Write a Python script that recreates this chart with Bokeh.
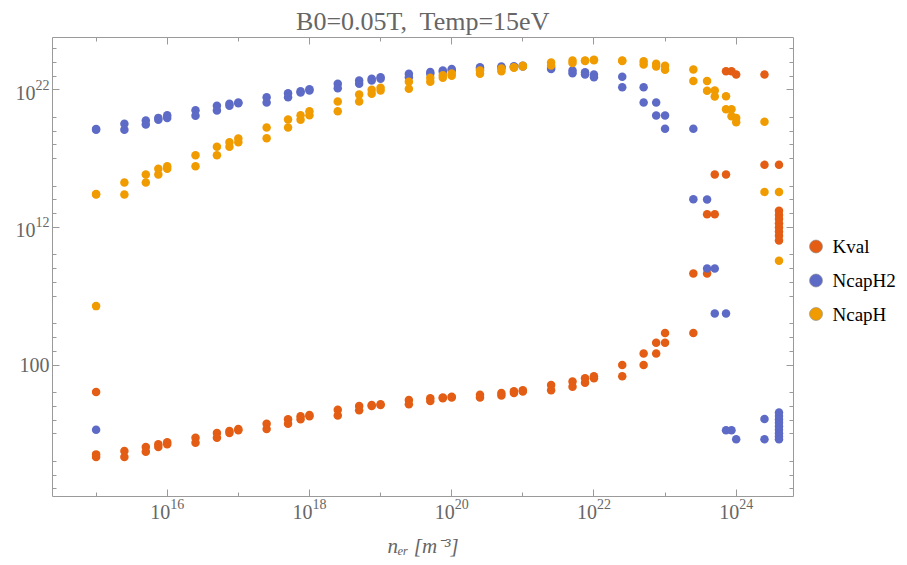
from bokeh.plotting import figure
from bokeh.layouts import row
from bokeh.models import FixedTicker, LogAxis, Range1d
from bokeh.core.properties import value
from bokeh.embed import file_html
from bokeh.resources import INLINE

# ---------------- data ----------------
N_E = [1e15, 2.5e15, 5e15, 7.5e15,
       1e16, 2.5e16, 5e16, 7.5e16,
       1e17, 2.5e17, 5e17, 7.5e17,
       1e18, 2.5e18, 5e18, 7.5e18,
       1e19, 2.5e19, 5e19, 7.5e19,
       1e20, 2.5e20, 5e20, 7.5e20,
       1e21, 2.5e21, 5e21, 7.5e21,
       1e22, 2.5e22, 5e22, 7.5e22,
       1e23, 2.5e23, 3.9e23, 5e23, 7.2e23, 8.6e23,
       1e24, 2.5e24, 4e24]

KVAL = [
    [1.1, 3.2e-5, 2.1e-5], [5.6e-5, 2.1e-5], [1.1e-4, 5.0e-5], [1.74e-4, 1.1e-4],
    [2.4e-4, 1.74e-4], [5.2e-4, 2.2e-4], [1.15e-3, 5.2e-4], [1.6e-3, 1.15e-3],
    [2.2e-3, 1.8e-3], [5.4e-3, 2.2e-3], [1.15e-2, 5.4e-3], [1.86e-2, 1.15e-2],
    [2.34e-2, 1.86e-2], [5.6e-2, 2.1e-2], [0.105, 5.1e-2], [0.123, 0.105],
    [0.138, 0.123], [0.29, 0.138], [0.38, 0.245], [0.43, 0.38],
    [0.50, 0.43], [0.68, 0.43], [0.93, 0.60], [1.23, 0.93],
    [1.48, 1.17], [3.55, 1.48], [6.2, 2.6], [11.0, 5.1],
    [15.5, 11.0], [100.0, 15.5], [680.0, 100.0], [4.1e3, 680.0],
    [2.1e4, 4.1e3], [4.5e8, 2.1e4], [8.9e12, 4.5e8], [6.9e15, 8.9e12], [2.2e23, 6.9e15], [2.2e23],
    [1.3e23], [1.3e23, 3.5e16],
    [3.5e16, 1.6e13, 7.9e12, 4.0e12, 2.0e12, 1.0e12, 5.0e11, 2.5e11, 1.1e11],
]

NCAPH2 = [
    [1.23e19, 1.4e19, 2.0e-3], [3.4e19, 1.23e19], [5.9e19, 2.95e19], [9.1e19, 6.6e19],
    [1.4e20, 9.1e19], [3.3e20, 1.3e20], [6.9e20, 3.1e20], [9.5e20, 6.9e20],
    [1.2e21, 1.05e21], [2.9e21, 1.2e21], [5.6e21, 2.9e21], [7.9e21, 6.3e21],
    [1.1e22, 8.9e21], [2.75e22, 1.3e22], [4.8e22, 2.75e22], [6.3e22, 4.8e22],
    [8.3e22, 6.3e22], [1.45e23, 8.3e22], [2.0e23, 1.45e23], [2.5e23, 2.0e23],
    [3.2e23, 2.5e23], [4.4e23, 3.2e23], [4.9e23, 4.0e23], [5.2e23, 4.5e23],
    [5.6e23, 5.0e23], [4.0e23, 3.2e23], [2.5e23, 1.6e23], [1.9e23, 1.3e23],
    [1.3e23, 8.3e22], [8.9e22, 1.5e22], [1.5e22, 1.2e21], [1.2e21, 1.35e20],
    [1.35e20, 1.5e19], [1.5e19, 1.1e14], [1.05e14, 1.05e9], [1.05e9, 5.5e5], [5.5e5, 1.8e-3], [1.8e-3],
    [4.0e-4], [1.2e-2, 4.0e-4],
    [3.6e-2, 2.0e-2, 1.1e-2, 6.3e-3, 3.5e-3, 2.0e-3, 1.1e-3, 6.3e-4, 4.0e-4],
]

NCAPH = [
    [2.7e14, 2.5e14, 1.9e6], [1.86e15, 2.5e14], [6.9e15, 1.86e15], [1.8e16, 6.9e15],
    [2.75e16, 1.8e16], [1.74e17, 2.75e16], [7.4e17, 1.74e17], [1.55e18, 7.4e17],
    [2.9e18, 1.55e18], [1.8e19, 3.0e18], [6.9e19, 1.8e19], [1.4e20, 6.6e19],
    [2.75e20, 1.4e20], [1.4e21, 2.75e20], [4.6e21, 1.4e21], [1.0e22, 5.1e21],
    [1.4e22, 8.9e21], [3.8e22, 1.17e22], [7.4e22, 3.8e22], [1.15e23, 7.4e22],
    [1.55e23, 1.05e23], [2.5e23, 1.45e23], [3.55e23, 2.2e23], [4.4e23, 4.0e23],
    [5.6e23, 5.0e23], [9.8e23, 5.9e23], [1.35e24, 8.7e23], [1.35e24, 1.26e24],
    [1.5e24, 1.4e24], [1.35e24, 1.26e24], [1.2e24, 6.9e23], [7.8e23, 5.0e23],
    [5.6e23, 2.9e23], [3.0e23, 4.3e22], [4.3e22, 8.5e21], [8.9e21, 3.2e21], [3.4e21, 3.9e20], [3.9e20, 1.2e20],
    [9.1e19, 4.4e19], [4.7e19, 3.8e14],
    [3.8e14, 3.8e9],
]

SERIES = ["Kval", "NcapH2", "NcapH"]
COLORS = ["#E35D14", "#5D6BC6", "#F09C00"]

X_MAJOR = [1e16, 1e18, 1e20, 1e22, 1e24]
X_MINOR = [1e15, 1e17, 1e19, 1e21, 1e23]
Y_MAJOR = [1e2, 1e12, 1e22]
Y_MINOR_EXP = [-7, -6, -5, -3, -2, -1, 0, 3, 4, 5, 7, 8, 9, 10, 13, 14, 15,
               17, 18, 19, 20, 23, 24, 25]


def flatten(xs, groups):
    fx, fy = [], []
    for x, g in zip(xs, groups):
        for v in g:
            fx.append(x)
            fy.append(v)
    return fx, fy


FONT = "Liberation Serif"
GRAY = "#666666"
AXC = "#9a9a9a"
H = 563
FH = 459

p = figure(frame_width=741, frame_height=FH, x_axis_type="log", y_axis_type="log",
           x_range=Range1d(10 ** 14.387, 10 ** 24.806),
           y_range=Range1d(10 ** -7.556, 10 ** 25.80),
           output_backend="svg", toolbar_location=None,
           min_border_left=52, min_border_right=8,
           min_border_top=37, min_border_bottom=67)
p.outline_line_color = None
p.xgrid.visible = False
p.ygrid.visible = False
p.background_fill_color = "white"
p.border_fill_color = "white"

p.title.text = "B0=0.05T,\u00a0 Temp=15eV"
p.title.align = "center"
p.title.text_font = FONT
p.title.text_font_size = "26px"
p.title.text_font_style = "normal"
p.title.text_color = GRAY
p.title.standoff = 3

xt = FixedTicker(ticks=X_MAJOR, minor_ticks=X_MINOR)
yt = FixedTicker(ticks=Y_MAJOR, minor_ticks=[10.0 ** e for e in Y_MINOR_EXP])


def style_axis(ax, labels=True):
    ax.axis_line_color = AXC
    ax.major_tick_line_color = AXC
    ax.minor_tick_line_color = AXC
    ax.major_tick_in = 7
    ax.major_tick_out = 0
    ax.minor_tick_in = 4
    ax.minor_tick_out = 0
    ax.major_label_text_font = FONT
    ax.major_label_text_color = GRAY
    if labels:
        ax.major_label_text_font_size = "20px"
    else:
        ax.major_label_text_font_size = "2px"
        ax.major_label_text_alpha = 0
        ax.major_label_standoff = 0


xa = p.xaxis[0]
xa.ticker = xt
style_axis(xa)
xa.major_label_standoff = 2
xa.axis_label = "n\u2091\u1d63 [m\u207b\u00b3]"
xa.axis_label_text_font = FONT
xa.axis_label_text_font_size = "21px"
xa.axis_label_text_font_style = "italic"
xa.axis_label_text_color = GRAY
xa.axis_label_standoff = 12

ya = p.yaxis[0]
ya.ticker = yt
style_axis(ya)
ya.major_label_standoff = 3
ya.major_label_overrides = {100: "100"}

top = LogAxis(ticker=xt)
style_axis(top, labels=False)
p.add_layout(top, "above")
right = LogAxis(ticker=yt)
style_axis(right, labels=False)
p.add_layout(right, "right")

for name, col, data in zip(SERIES, COLORS, [KVAL, NCAPH2, NCAPH]):
    fx, fy = flatten(N_E, data)
    p.scatter(fx, fy, size=8.5, fill_color=col, line_color=None)

# ---------------- legend panel (separate, axis-less figure) ----------------
# its frame is aligned with the main frame, so y runs 0 (frame top) .. FH
LW = 106
leg = figure(width=LW, height=H, x_range=Range1d(0, LW), y_range=Range1d(FH, 0),
             output_backend="svg", toolbar_location=None,
             x_axis_location=None, y_axis_location=None,
             min_border=0, min_border_left=0, min_border_right=0,
             min_border_top=0, min_border_bottom=0)
leg.outline_line_color = None
leg.xgrid.visible = False
leg.ygrid.visible = False
leg.border_fill_color = "white"

LEG_ROWS = [209, 243, 276.5]
leg.scatter(x=[14.5] * 3, y=LEG_ROWS, size=13, fill_color=COLORS,
            line_color="#8a8a8a", line_width=1, line_alpha=0.6)
leg.text(x=[31] * 3, y=LEG_ROWS, text=SERIES, text_font=value(FONT),
         text_font_size=value("19px"), text_baseline="middle",
         text_align="left", text_color="black")

layout = row(p, leg, spacing=0)
open("out.html", "w").write(file_html(layout, INLINE))
